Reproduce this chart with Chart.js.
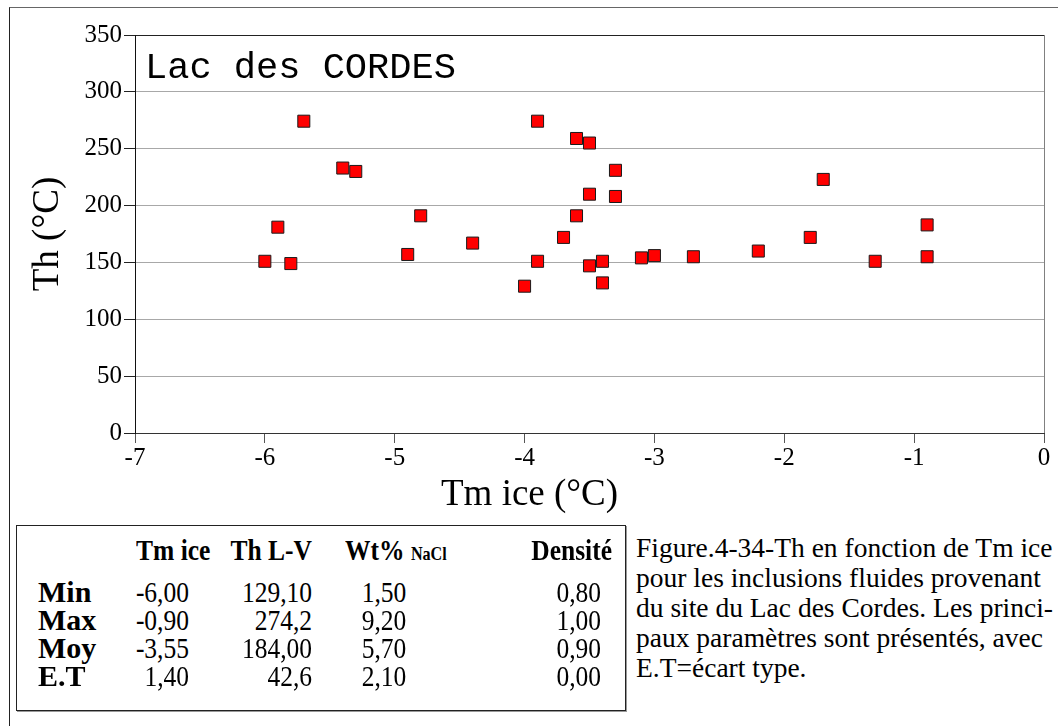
<!DOCTYPE html>
<html>
<head>
<meta charset="utf-8">
<script src="https://cdn.jsdelivr.net/npm/chart.js"></script>
<style>
  body { margin: 0; background: #fff; }
  #wrap { position: relative; width: 1058px; height: 726px; overflow: hidden; font-family: "Liberation Serif", "Times New Roman", serif; color: #000; }
  #frame { position: absolute; left: 9px; top: 7px; width: 1200px; height: 900px; border-left: 1px solid #222; border-top: 1px solid #666; }
  #myChart { position: absolute; left: 0; top: 0; }
  #site { position: absolute; left: 145px; top: 50px; font-family: "Liberation Mono", "Courier New", monospace; font-size: 37px; line-height: 37px; white-space: pre; }
  #xtitle { position: absolute; left: 441px; top: 474px; font-size: 37px; line-height: 37px; white-space: nowrap; }
  #stats { position: absolute; left: 16px; top: 525px; width: 608px; height: 184px; border: 1px solid #222; box-shadow: 1px 1px 0 #999; }
  .cell { position: absolute; font-size: 30px; line-height: 30px; white-space: nowrap; }
  .b { font-weight: bold; }
  .small { font-size: 19px; }
  #caption { position: absolute; left: 636px; top: 533px; font-size: 27.5px; line-height: 30px; white-space: nowrap; }
</style>
</head>
<body>
<div id="wrap">
  <div id="frame"></div>
  <canvas id="myChart" width="1058" height="520"></canvas>
  <div id="site">Lac des CORDES</div>
  <div id="xtitle">Tm ice (°C)</div>
  <div id="stats"></div>
  <div id="caption">Figure.4-34-Th en fonction de Tm ice<br>pour les inclusions fluides provenant<br>du site du Lac des Cordes. Les princi-<br>paux paramètres sont présentés, avec<br>E.T=écart type.</div>
</div>
<script>
// Tm ice (°C) and Th L-V (°C) of each fluid inclusion
const tmIce = [-6.0, -5.9, -5.8, -5.7, -5.4, -5.3, -4.9, -4.8, -4.4, -4.0, -3.9, -3.9, -3.7, -3.6, -3.6, -3.5,
               -3.3, -3.5, -3.3, -3.5, -3.4, -3.4, -3.1, -3.0, -2.7, -2.2, -1.8, -1.7, -1.3, -0.9, -0.9];
const thLV = [151, 181, 149, 274.2, 233, 230, 157, 191, 167, 129.1, 274.2, 151, 172, 259, 191, 255,
              231, 210, 208, 147, 151, 132, 154, 156, 155, 160, 172, 223, 151, 183, 155];

const xTicks = [-7, -6, -5, -4, -3, -2, -1, 0];
const yTicks = [0, 50, 100, 150, 200, 250, 300, 350];

// summary table
const statHeaders = ["Tm ice", "Th L-V", "Wt%", "Densité"];
const statRows = ["Min", "Max", "Moy", "E.T"];
const statTmIce = ["-6,00", "-0,90", "-3,55", "1,40"];
const statTh = ["129,10", "274,2", "184,00", "42,6"];
const statWt = ["1,50", "9,20", "5,70", "2,10"];
const statDens = ["0,80", "1,00", "0,90", "0,00"];

Chart.defaults.font.family = "Liberation Serif";
Chart.defaults.color = "#000";

const ctx = document.getElementById("myChart");
const myChart = new Chart(ctx, {
    type: "scatter",
    data: {
        datasets: [{
            data: tmIce.map((x, i) => ({ x: x, y: thLV[i] })),
            pointStyle: "rect",
            pointRadius: 8.5,
            pointHoverRadius: 8.5,
            backgroundColor: "#ff0000",
            borderColor: "#1a1a1a",
            borderWidth: 1,
        }],
    },
    options: {
        responsive: false,
        animation: false,
        layout: { padding: { top: 35, right: 14, left: 0, bottom: 0 } },
        plugins: {
            legend: { display: false },
            tooltip: { enabled: false },
        },
        scales: {
            x: {
                type: "linear",
                min: xTicks[0],
                max: xTicks[xTicks.length - 1],
                afterBuildTicks: (scale) => { scale.ticks = xTicks.map((v) => ({ value: v })); },
                afterFit: (scale) => { scale.height = 87; },
                ticks: {
                    color: "#000",
                    padding: 0,
                    maxRotation: 0,
                    font: { family: "Liberation Serif", size: 25 },
                },
                grid: {
                    color: (c) => (c.tick && c.tick.value === 0 ? "#808080" : "rgba(0,0,0,0)"),
                    tickColor: "#555",
                    tickLength: 10,
                    lineWidth: 1,
                },
                border: { color: "#333", width: 1 },
            },
            y: {
                min: yTicks[0],
                max: yTicks[yTicks.length - 1],
                afterBuildTicks: (scale) => { scale.ticks = yTicks.map((v) => ({ value: v })); },
                afterFit: (scale) => { scale.width = 135; },
                ticks: {
                    color: "#000",
                    padding: 2,
                    font: { family: "Liberation Serif", size: 25 },
                },
                grid: {
                    color: (c) => (c.tick && c.tick.value === 350 ? "#222" : "#a8a8a8"),
                    tickColor: "#222",
                    tickLength: 11,
                    lineWidth: 1,
                },
                border: { color: "#111", width: 1 },
                title: {
                    display: true,
                    text: "Th (°C)",
                    color: "#000",
                    font: { family: "Liberation Serif", size: 37 },
                    padding: { top: 26, bottom: 0 },
                },
            },
        },
    },
});

// summary table (the figures are a bit condensed in the original)
const box = document.getElementById("stats");
const ox = 17, oy = 526;
function put(html, x, top, cls, align, squeeze) {
    const d = document.createElement("div");
    d.className = "cell " + (cls || "");
    d.innerHTML = html;
    d.style.top = (top - oy) + "px";
    const w = 200;
    d.style.width = w + "px";
    if (align === "right") {
        d.style.left = (x - ox - w) + "px";
        d.style.textAlign = "right";
        d.style.transformOrigin = "right center";
    } else if (align === "center") {
        d.style.left = (x - ox - w / 2) + "px";
        d.style.textAlign = "center";
        d.style.transformOrigin = "center center";
    } else {
        d.style.left = (x - ox) + "px";
        d.style.textAlign = "left";
        d.style.transformOrigin = "left center";
    }
    d.style.transform = "scaleX(" + (squeeze || 0.85) + ")";
    box.appendChild(d);
}
const headTop = 535;
put(statHeaders[0], 136, headTop, "b");
put(statHeaders[1], 312, headTop, "b", "right");
put(statHeaders[2] + ' <span class="small">NaCl</span>', 345, headTop, "b");
put(statHeaders[3], 612, headTop, "b", "right");
statRows.forEach((r, i) => {
    const t = 577 + i * 28;
    put(r, 38, t, "b", "left", 1);
    put(statTmIce[i], 189, t, "", "right");
    put(statTh[i], 312, t, "", "right");
    put(statWt[i], 384, t, "", "center");
    put(statDens[i], 601, t, "", "right");
});
</script>
</body>
</html>
